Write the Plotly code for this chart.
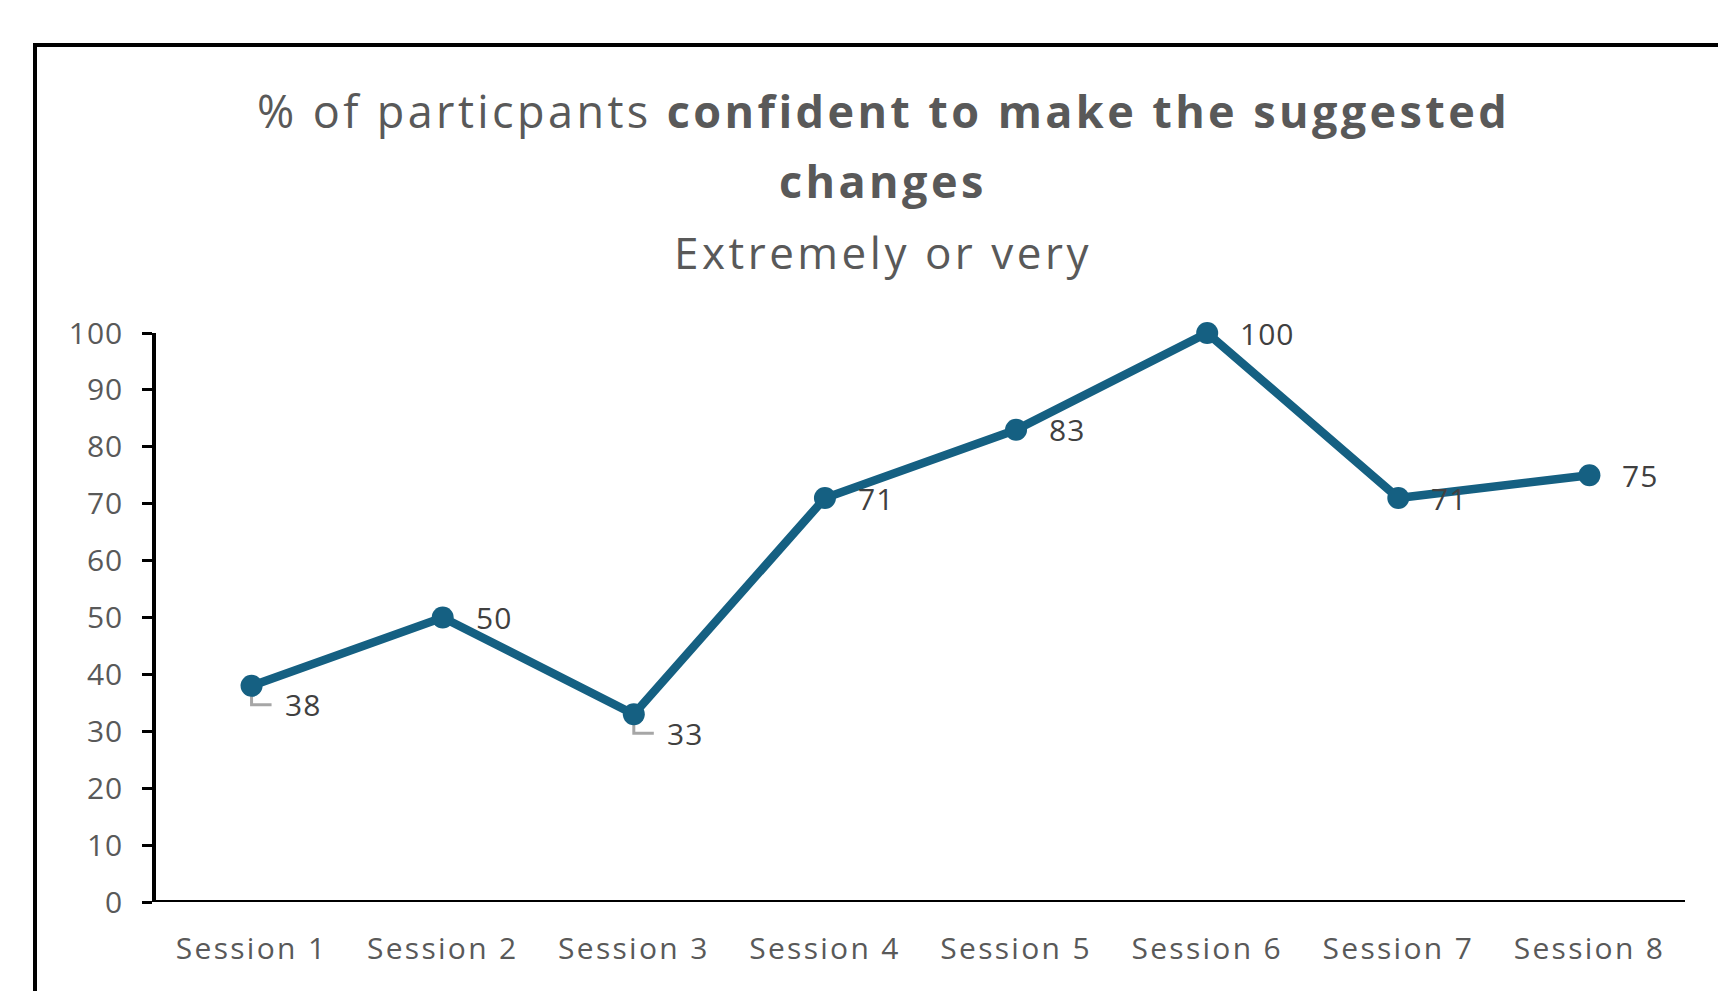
import plotly.graph_objects as go

# Survey results per session
sessions = ["Session 1", "Session 2", "Session 3", "Session 4",
            "Session 5", "Session 6", "Session 7", "Session 8"]
confident_pct = [38, 50, 33, 71, 83, 100, 71, 75]
y_ticks = [0, 10, 20, 30, 40, 50, 60, 70, 80, 90, 100]

title_line1 = "% of particpants <b>confident to make the suggested</b>"
title_line2 = "<b>changes</b>"
subtitle = "Extremely or very"

# Labels that were dragged below their point get a small leader line
moved_labels = {"Session 1", "Session 3"}

FONT = "Open Sans"
LINE_COLOR = "#156082"
TEXT_GRAY = "#595959"
LABEL_GRAY = "#404040"

W, H = 1718, 991
L, R, T, B = 156, 33, 333, 89
plot_w = W - L - R
plot_h = H - T - B


def px_to_paper_x(px):
    return (px - L) / plot_w


def px_to_paper_y(py):
    return (H - B - py) / plot_h


def spaced(text, px):
    """Wrap text so its letters are drawn slightly further apart."""
    return f'<span style="letter-spacing:{px}px">{text}</span>'


fig = go.Figure()
fig.add_trace(go.Scatter(
    x=sessions,
    y=confident_pct,
    mode="lines+markers",
    line=dict(color=LINE_COLOR, width=8.5),
    marker=dict(color=LINE_COLOR, size=22),
    cliponaxis=False,
    hoverinfo="skip",
    showlegend=False,
))

annotations = []
shapes = []
for i, (s, v) in enumerate(zip(sessions, confident_pct)):
    moved = s in moved_labels
    annotations.append(dict(
        x=s, y=v, xref="x", yref="y",
        text=spaced(str(v), 1), showarrow=False,
        xanchor="left", yanchor="middle",
        xshift=31, yshift=-19 if moved else 0,
        font=dict(family=FONT, size=30, color=LABEL_GRAY),
    ))
    if moved:
        shapes.append(dict(
            type="path", xref="x", yref="y",
            xsizemode="pixel", ysizemode="pixel",
            xanchor=i, yanchor=v,
            path="M0,-8 L0,-19 L20,-19",
            line=dict(color="#A6A6A6", width=3),
            layer="below",
        ))

# Title block
title_x = px_to_paper_x(883)
for text, py, size, ls in [(title_line1, 111, 45, 3.4), (title_line2, 181, 45, 3.4),
                           (subtitle, 252, 44, 3.5)]:
    annotations.append(dict(
        x=title_x, y=px_to_paper_y(py), xref="paper", yref="paper",
        text=spaced(text, ls), showarrow=False, xanchor="center", yanchor="middle",
        font=dict(family=FONT, size=size, color=TEXT_GRAY),
    ))

# Horizontal category axis line, drawn centred on y = 0
shapes.append(dict(
    type="line", xref="paper", yref="y",
    x0=px_to_paper_x(152), x1=1, y0=0, y1=0,
    line=dict(color="black", width=4),
    layer="above",
))

# Outer chart frame (left and top edges are visible)
shapes.append(dict(
    type="rect", xref="paper", yref="paper",
    x0=px_to_paper_x(35), x1=1.2,
    y0=px_to_paper_y(45), y1=-0.5,
    line=dict(color="black", width=4),
    fillcolor="rgba(0,0,0,0)",
    layer="below",
))

fig.update_layout(
    width=W, height=H,
    margin=dict(l=L, r=R, t=T, b=B),
    paper_bgcolor="white",
    plot_bgcolor="white",
    font=dict(family=FONT, color=TEXT_GRAY),
    annotations=annotations,
    shapes=shapes,
    xaxis=dict(
        type="category",
        range=[-0.5, len(sessions) - 0.5],
        showgrid=False, zeroline=False,
        showline=False,
        ticks="",
        tickvals=sessions,
        ticktext=[spaced(s, 2.3) for s in sessions],
        tickfont=dict(family=FONT, size=30, color=TEXT_GRAY),
        ticklabelstandoff=26,
    ),
    yaxis=dict(
        range=[0, 100],
        tickvals=y_ticks,
        ticktext=[spaced(str(t), 1) for t in y_ticks],
        showgrid=False, zeroline=False,
        showline=True, linecolor="black", linewidth=3.5,
        ticks="outside", ticklen=10, tickwidth=3, tickcolor="black",
        tickfont=dict(family=FONT, size=30, color=TEXT_GRAY),
        ticklabelstandoff=13,
    ),
)

fig.write_html("out.html")
